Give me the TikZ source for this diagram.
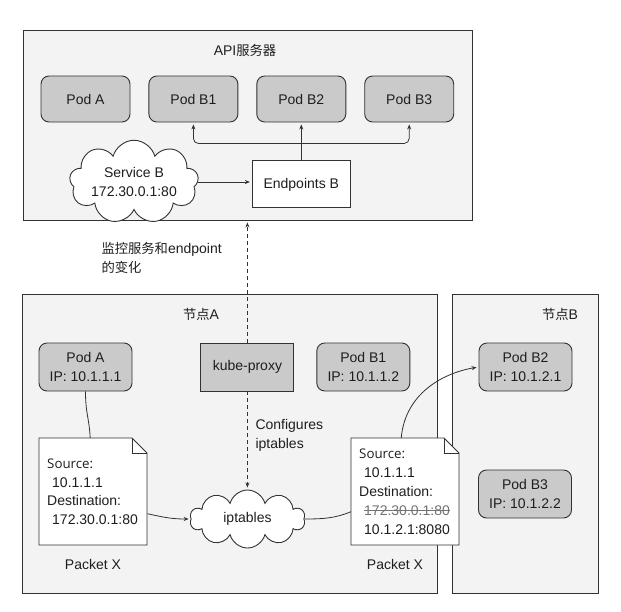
\documentclass[tikz,border=0pt]{standalone}
\usepackage{fontspec}
\setmainfont{Liberation Sans}
\newfontfamily\cjk{Noto Sans CJK SC}[Scale=0.95]
\newfontfamily\srcfont{Open Sans}[Scale=0.95]
\usepackage{tikz}
\usetikzlibrary{positioning,shapes.symbols,arrows.meta}
\definecolor{framegray}{RGB}{243,243,243}
\definecolor{podgray}{RGB}{202,202,202}
\definecolor{linegray}{RGB}{50,50,50}
\definecolor{textgray}{RGB}{30,30,30}
\newcommand{\packetshape}[1]{%
  \draw[packetline] (#1) -- ++(93,0) -- ++(15,15) -- ++(0,92) -- ++(-108,0) -- cycle;
  \draw[packetline,fill=none] (#1) ++(93,0) |- ++(15,15);}
\newcommand{\struck}[1]{\setbox0\hbox{#1}\rlap{\raisebox{0.34em}{\rule{\wd0}{0.5pt}}}\box0}

\begin{document}
\begin{tikzpicture}[x=1pt,y=-1pt,
    font=\fontsize{14}{18.8}\selectfont,text=textgray,
    frame/.style={draw=linegray,fill=framegray,line width=0.9pt,inner sep=0pt},
    pod/.style={draw=linegray,fill=podgray,rounded corners=8pt,line width=0.9pt,align=center,inner sep=0pt},
    apipod/.style={pod,minimum width=89pt,minimum height=46pt},
    nodepod/.style={pod,minimum width=93pt,minimum height=48pt},
    cloudbox/.style={cloud,cloud puffs=9,aspect=2.2,draw=linegray,fill=white,line width=0.9pt,align=center,inner sep=0pt},
    packet/.style={anchor=north west,minimum width=108pt,minimum height=107pt,inner xsep=8pt,inner ysep=0pt,text width=92pt,align=left},
    packetline/.style={draw=linegray,fill=white,line width=0.9pt},
    link/.style={draw=linegray,line width=0.8pt},
    arr/.style={link,-{Stealth[length=5pt,width=4pt]},shorten >=2pt},
    watch/.style={arr,dash pattern=on 4pt off 3pt}]

    \useasboundingbox (0,0) rectangle (621,611);

    % frames
    \node[frame,minimum width=449pt,minimum height=190pt] (api) at (247.5,125) {};
    \node[frame,minimum width=415pt,minimum height=299pt] (nodeA) at (229.5,443.5) {};
    \node[frame,minimum width=146pt,minimum height=299pt] (nodeB) at (525,443.5) {};
    \node (apititle) at (245,50) {API{\cjk 服务器}};
    \node (nodeAtitle) at (201,314) {{\cjk 节点}A};
    \node (nodeBtitle) at (560,314) {{\cjk 节点}B};

    % API server
    \node[apipod] (apiPodA) at (85.5,99) {Pod A};
    \node[apipod,right=18pt of apiPodA] (apiPodB1) {Pod B1};
    \node[apipod,right=18pt of apiPodB1] (apiPodB2) {Pod B2};
    \node[apipod,right=18pt of apiPodB2] (apiPodB3) {Pod B3};
    \node[draw=linegray,fill=white,line width=0.9pt,minimum width=98pt,minimum height=47pt,below=38pt of apiPodB2] (ep) {Endpoints B};
    \node[cloudbox,minimum width=129pt,minimum height=60pt] (svcB) at (134,182) {Service B\\172.30.0.1:80};

    \draw[arr] (svcB.east) -- (svcB.east -| ep.west);
    \draw[arr] (ep.north) -- (apiPodB2.south);
    \draw[arr,rounded corners=5pt] ([yshift=17pt]ep.north) -| (apiPodB1.south);
    \draw[arr,rounded corners=5pt] ([yshift=17pt]ep.north) -| (apiPodB3.south);

    % node A and node B
    \node[nodepod] (podA) at (85.5,367) {Pod A\\IP: 10.1.1.1};
    \node[draw=linegray,fill=podgray,line width=0.9pt,minimum width=93pt,minimum height=48pt,right=68pt of podA] (kube) {kube-proxy};
    \node[nodepod,right=22pt of kube] (podB1) {Pod B1\\IP: 10.1.1.2};
    \node[nodepod] (podB2) at (525.5,367) {Pod B2\\IP: 10.1.2.1};
    \node[nodepod] (podB3) at (525,494) {Pod B3\\IP: 10.1.2.2};
    \node[cloudbox,cloud puffs=10,minimum width=115pt,minimum height=58pt] (ipt) at (247.5,519) {iptables};

    \coordinate (pA) at (39,438);
    \packetshape{pA}
    \node[packet] (pktA) at (pA) {{\srcfont Source:}\\\hspace*{5pt}10.1.1.1\\Destination:\\\hspace*{5pt}172.30.0.1:80};
    \coordinate (pB) at (351,438);
    \packetshape{pB}
    \node[packet] (pktB) at (pB) {{\srcfont Source:}\\\hspace*{5pt}10.1.1.1\\Destination:\\\hspace*{5pt}{\color{black!55}\struck{172.30.0.1:80}}\\\hspace*{5pt}10.1.2.1:8080};
    \node (pktAlabel) at (93,564) {Packet X};
    \node (pktBlabel) at (395,564) {Packet X};

    \node[anchor=west,align=left] (watchlabel) at (98,258) {{\cjk 监控服务和}endpoint\\{\cjk 的变化}};
    \node[anchor=west,align=left] (cfglabel) at (252,435) {Configures\\iptables};

    \draw[watch] (kube.north) -- (kube.north |- api.south);
    \draw[watch] (kube.south) -- (kube.south |- ipt.north);

    \draw[link] (podA.south) .. controls +(0,22) and +(-1,-20) .. ([xshift=-3pt]pktA.north);
    \draw[arr] ([yshift=-22pt]pktA.east) .. controls +(18,4) and +(-18,0) .. (ipt.west);
    \draw[link] (ipt.east) .. controls +(22,0) and +(-15,6) .. ([yshift=-20pt]pktB.west);
    \draw[arr] ([xshift=-4pt]pktB.north) .. controls +(4,-45) and +(-35,6) .. (podB2.west);

\end{tikzpicture}
\end{document}
